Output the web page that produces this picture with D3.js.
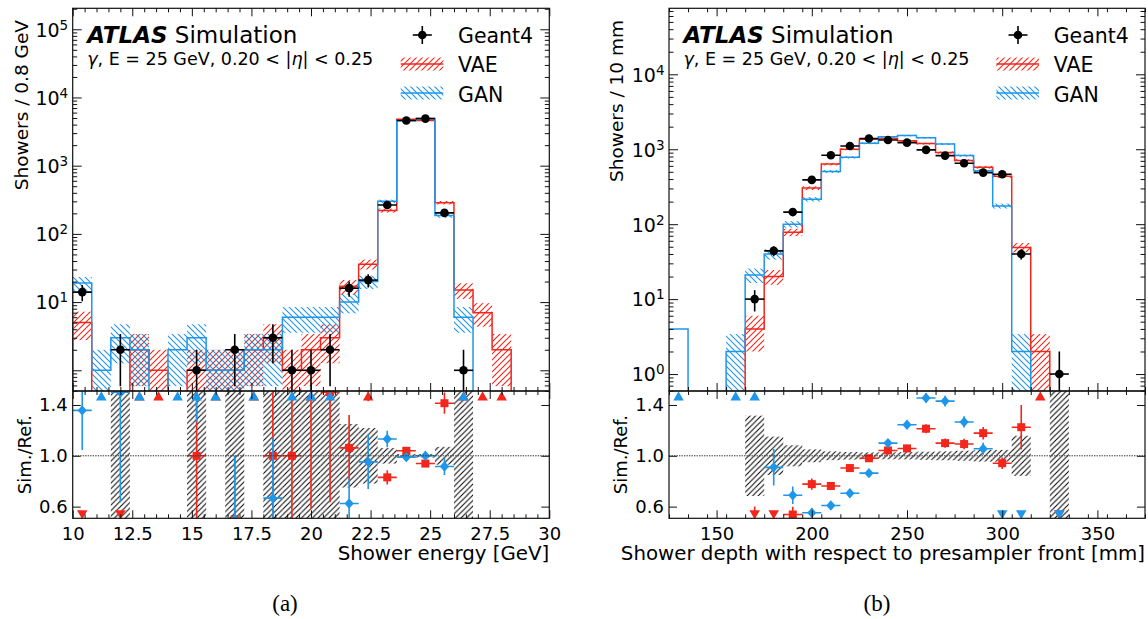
<!DOCTYPE html>
<html><head><meta charset="utf-8">
<script src="https://cdn.jsdelivr.net/npm/d3@7"></script>
<style>
body{margin:0;background:#fff}
svg{display:block}
text{font-family:"DejaVu Sans",sans-serif;fill:#000}
</style>
</head><body>
<svg id="chart" width="1148" height="619"></svg>
<script>
// ---------------- DATA ----------------
// (a) shower energy, bins of 0.8 GeV (lower edges)
const energyLow = [10.0,10.8,11.6,12.4,13.2,14.0,14.8,15.6,16.4,17.2,18.0,18.8,19.6,20.4,21.2,22.0,22.8,23.6,24.4,25.2,26.0,26.8,27.6,28.4,29.2];
const energyG4  = [14,0,2,0,0,0,1,0,2,0,3,1,1,2,16,21,265,4600,4900,203,1,0,0,0,0];
const energyVAE = [5,0,0,2,1,0,1,1,1,2,3,1,2,3,17,36,220,4780,4600,287,15,7,2,0,0];
const energyGAN = [19,1,3,2,0,2,3,1,1,2,2,6,6,6,10,20,300,4550,4900,186,6,0,0,0,0];
const energyTicks = [10,12.5,15,17.5,20,22.5,25,27.5,30];
const energyNoRefBand = [0];
const energyNoGanBand = [];

// (b) shower depth, bins of 10 mm (lower edges)
const depthLow = [125,135,145,155,165,175,185,195,205,215,225,235,245,255,265,275,285,295,305,315,325,335,345,355,365];
const depthG4  = [0,0,0,0,10,44,145,390,830,1107,1390,1330,1225,980,822,650,488,464,40,0,1,0,0,0,0];
const depthVAE = [0,0,0,0,4,20,78,303,633,1000,1363,1386,1296,1189,904,710,575,437,49,2,0,0,0,0,0];
const depthGAN = [4,0,0,2,21,40,100,215,505,780,1200,1463,1525,1426,1176,823,515,175,2,0,0,0,0,0,0];
const depthTicks = [150,200,250,300,350];
const depthNoRefBand = [];
const depthNoGanBand = [0];

const ratioTicks = [0.6,1.0,1.4];

// ---------------- STYLE ----------------
const RED = "#f2261b", BLUE = "#1e96ea";
const svg = d3.select("#chart");
const defs = svg.append("defs");

function makeHatch(id, color, dir, sp, sw){
  const p = defs.append("pattern").attr("id",id).attr("patternUnits","userSpaceOnUse")
    .attr("width",sp).attr("height",sp);
  const d = dir === "/"
    ? `M${-sp/2},${sp/2}L${sp/2},${-sp/2}M0,${sp}L${sp},0M${sp/2},${sp*1.5}L${sp*1.5},${sp/2}`
    : `M${-sp/2},${sp/2}L${sp/2},${sp*1.5}M0,0L${sp},${sp}M${sp/2},${-sp/2}L${sp*1.5},${sp/2}`;
  p.append("path").attr("d",d).attr("stroke",color).attr("stroke-width",sw).attr("fill","none");
}
makeHatch("hR", RED, "/", 6, 1.1);
makeHatch("hB", BLUE, "\\", 6, 1.1);
makeHatch("hK", "#000", "/", 5.5, 1.0);

function drawPanel(P){
  const x = d3.scaleLinear().domain(P.xDomain).range([P.left, P.right]);
  const y = d3.scaleLog().domain(P.yDomain).range([P.mid, P.top]);
  const r = d3.scaleLinear().domain([0.508,1.51]).range([P.bottom, P.mid]);
  const g = svg.append("g");

  defs.append("clipPath").attr("id",P.id+"T").append("rect")
    .attr("x",P.left).attr("y",P.top).attr("width",P.right-P.left).attr("height",P.mid-P.top);
  defs.append("clipPath").attr("id",P.id+"R").append("rect")
    .attr("x",P.left).attr("y",P.mid).attr("width",P.right-P.left).attr("height",P.bottom-P.mid);
  const top = g.append("g").attr("clip-path",`url(#${P.id}T)`);
  const rat = g.append("g").attr("clip-path",`url(#${P.id}R)`);
  const below = P.mid + 20;
  const yv = v => v > 0 ? y(v) : below;
  const bins = P.low.map((lo,i)=>({lo:lo, hi:lo+P.w, c:lo+P.w/2, i:i}));

  function band(vals, fill, skip){
    top.selectAll(null).data(bins.filter(b=>vals[b.i]>0 && !skip.includes(b.i))).enter()
      .append("rect")
      .attr("x",b=>x(b.lo)).attr("width",b=>x(b.hi)-x(b.lo))
      .attr("y",b=>y(vals[b.i]+Math.sqrt(vals[b.i])))
      .attr("height",b=>{const lo=vals[b.i]-Math.sqrt(vals[b.i]); return (lo>0?y(lo):below)-y(vals[b.i]+Math.sqrt(vals[b.i]));})
      .attr("fill",fill);
  }
  function step(vals, color){
    let d = `M${x(bins[0].lo)},${below}`;
    bins.forEach(b=>{ d += `L${x(b.lo)},${yv(vals[b.i])}L${x(b.hi)},${yv(vals[b.i])}`; });
    d += `L${x(bins[bins.length-1].hi)},${below}`;
    top.append("path").attr("d",d).attr("fill","none").attr("stroke",color).attr("stroke-width",1.5);
  }
  band(P.vae,"url(#hR)",[]);
  band(P.gan,"url(#hB)",P.noGanBand);
  step(P.vae,RED);
  step(P.gan,BLUE);

  // Geant4 points
  const pts = bins.filter(b=>P.g4[b.i]>0);
  pts.forEach(b=>{
    const v=P.g4[b.i], e=Math.sqrt(v);
    top.append("line").attr("x1",x(b.lo)).attr("x2",x(b.hi)).attr("y1",y(v)).attr("y2",y(v))
      .attr("stroke","#000").attr("stroke-width",1.6);
    top.append("line").attr("x1",x(b.c)).attr("x2",x(b.c)).attr("y1",y(v+e)).attr("y2",v-e>0?y(v-e):below)
      .attr("stroke","#000").attr("stroke-width",1.6);
    top.append("circle").attr("cx",x(b.c)).attr("cy",y(v)).attr("r",4.3).attr("fill","#000");
  });

  // ratio reference band
  bins.filter(b=>P.g4[b.i]>0 && !P.noRefBand.includes(b.i)).forEach(b=>{
    const e = 1/Math.sqrt(P.g4[b.i]);
    rat.append("rect").attr("x",x(b.lo)).attr("width",x(b.hi)-x(b.lo))
      .attr("y",r(1+e)).attr("height",r(1-e)-r(1+e)).attr("fill","url(#hK)");
  });
  g.append("line").attr("x1",P.left).attr("x2",P.right).attr("y1",r(1)).attr("y2",r(1))
    .attr("stroke","#333").attr("stroke-width",1).attr("stroke-dasharray","1.4,1.1");

  const tri = d3.symbol().type(d3.symbolTriangle).size(48);
  function ratioPts(vals, color, shape){
    bins.forEach(b=>{
      const s=vals[b.i], ref=P.g4[b.i];
      if(s===0 && ref===0) return;
      const cx = x(b.c);
      if(ref===0){ g.append("path").attr("d",tri()).attr("transform",`translate(${cx},${r(1.46)})`).attr("fill",color); return; }
      if(s===0){ g.append("path").attr("d",tri()).attr("transform",`translate(${cx},${r(0.548)}) rotate(180)`).attr("fill",color); return; }
      const q=s/ref, e=Math.sqrt(s)/ref;
      rat.append("line").attr("x1",cx).attr("x2",cx).attr("y1",r(q-e)).attr("y2",r(q+e)).attr("stroke",color).attr("stroke-width",1.6);
      rat.append("line").attr("x1",x(b.lo)).attr("x2",x(b.hi)).attr("y1",r(q)).attr("y2",r(q)).attr("stroke",color).attr("stroke-width",1.6);
      if(q>1.5){ g.append("path").attr("d",tri()).attr("transform",`translate(${cx},${r(1.46)})`).attr("fill",color); }
      else if(q<0.5){ g.append("path").attr("d",tri()).attr("transform",`translate(${cx},${r(0.548)}) rotate(180)`).attr("fill",color); }
      else if(shape==="square"){ rat.append("rect").attr("x",cx-4).attr("y",r(q)-4).attr("width",8).attr("height",8).attr("fill",color); }
      else { rat.append("path").attr("d",`M${cx},${r(q)-5.2}L${cx+4.6},${r(q)}L${cx},${r(q)+5.2}L${cx-4.6},${r(q)}Z`).attr("fill",color); }
    });
  }
  ratioPts(P.vae,RED,"square");
  ratioPts(P.gan,BLUE,"diamond");

  // frames
  [[P.top,P.mid],[P.mid,P.bottom]].forEach(([a,bb])=>{
    g.append("rect").attr("x",P.left).attr("y",a).attr("width",P.right-P.left).attr("height",bb-a)
      .attr("fill","none").attr("stroke","#111").attr("stroke-width",1.2);
  });

  // ticks
  const xMinor = d3.range(P.xDomain[0], P.xDomain[1]+1e-9, P.minorStep).map(v=>+v.toFixed(4)).filter(v=>!P.ticks.includes(v));
  function ax(gen, pos, vals, size, fmt, pad){
    const a = gen.tickValues(vals).tickSizeInner(-size).tickSizeOuter(0).tickPadding(pad||3).tickFormat(fmt||"");
    const s = g.append("g").attr("transform",pos).call(a);
    s.select(".domain").remove();
    s.selectAll(".tick line").attr("stroke","#111").attr("stroke-width",1);
    s.selectAll("text").attr("font-size","18px").attr("font-family","DejaVu Sans").attr("fill","#000");
    return s;
  }
  // x ticks
  ax(d3.axisTop(x),`translate(0,${P.top})`,P.ticks,8);
  ax(d3.axisTop(x),`translate(0,${P.top})`,xMinor,4);
  ax(d3.axisBottom(x),`translate(0,${P.mid})`,P.ticks,8);
  ax(d3.axisBottom(x),`translate(0,${P.mid})`,xMinor,4);
  ax(d3.axisTop(x),`translate(0,${P.mid})`,P.ticks,8);
  ax(d3.axisTop(x),`translate(0,${P.mid})`,xMinor,4);
  ax(d3.axisBottom(x),`translate(0,${P.bottom})`,P.ticks,8,d=>d3.format("")(d),8.5);
  ax(d3.axisBottom(x),`translate(0,${P.bottom})`,xMinor,4);
  // log y ticks
  const lo = Math.floor(Math.log10(P.yDomain[0])), hi = Math.ceil(Math.log10(P.yDomain[1]));
  const major=[], minor=[];
  for(let d=lo; d<=hi; d++){
    const m = Math.pow(10,d);
    if(m>=P.yDomain[0] && m<=P.yDomain[1]) major.push(m);
    for(let k=2;k<10;k++){ const v=k*m; if(v>=P.yDomain[0] && v<=P.yDomain[1]) minor.push(v); }
  }
  const ly = ax(d3.axisLeft(y),`translate(${P.left},0)`,major,9,d=>"",4.5);
  ly.selectAll(".tick").each(function(d){
    const e = Math.round(Math.log10(d));
    if(!P.yLabelDecades.includes(e)) return;
    const t = d3.select(this).select("text").text("");
    t.attr("font-size","19px").attr("dy","0.36em");
    t.append("tspan").text("10");
    t.append("tspan").attr("dy","-0.52em").attr("font-size","13.5px").text(e);
  });
  ax(d3.axisLeft(y),`translate(${P.left},0)`,minor,4.5);
  ax(d3.axisRight(y),`translate(${P.right},0)`,major,9);
  ax(d3.axisRight(y),`translate(${P.right},0)`,minor,4.5);
  // ratio y ticks
  ax(d3.axisLeft(r),`translate(${P.left},0)`,ratioTicks,8,d3.format(".1f"),5);
  ax(d3.axisRight(r),`translate(${P.right},0)`,ratioTicks,8);

  // labels
  g.append("text").attr("transform",`translate(${P.ylabX},20) rotate(-90)`).attr("text-anchor","end")
    .attr("font-size","18.5px").text(P.ylabel);
  g.append("text").attr("transform",`translate(${P.rlabX},${(P.mid+P.bottom)/2}) rotate(-90)`).attr("text-anchor","middle")
    .attr("font-size","18px").text("Sim./Ref.");
  g.append("text").attr("x",P.right).attr("y",560).attr("text-anchor","end").attr("font-size","19.8px").text(P.xlabel);

  // ATLAS label
  const at = g.append("text").attr("x",P.left+14.5).attr("y",42.7).attr("font-size","23px");
  at.append("tspan").attr("font-weight","bold").attr("font-style","italic").text("ATLAS");
  at.append("tspan").text(" Simulation");
  const inf = g.append("text").attr("x",P.left+14.5).attr("y",65).attr("font-size","17.5px");
  inf.append("tspan").attr("font-style","italic").text("γ");
  inf.append("tspan").text(", E = 25 GeV, 0.20 < |");
  inf.append("tspan").attr("font-style","italic").text("η");
  inf.append("tspan").text("| < 0.25");

  // legend
  const px = P.right-148.6, pw = 42.6, mx = P.right-127, tx = P.right-91.3;
  g.append("line").attr("x1",mx-9.5).attr("x2",mx+9.5).attr("y1",35).attr("y2",35).attr("stroke","#000").attr("stroke-width",1.6);
  g.append("line").attr("x1",mx).attr("x2",mx).attr("y1",26).attr("y2",44).attr("stroke","#000").attr("stroke-width",1.6);
  g.append("circle").attr("cx",mx).attr("cy",35).attr("r",4.3).attr("fill","#000");
  g.append("text").attr("x",tx).attr("y",43).attr("font-size","20.5px").text("Geant4");
  [["VAE","url(#hR)",RED,57.5,72],["GAN","url(#hB)",BLUE,86.5,101.5]].forEach(([lab,fill,col,yy,tb])=>{
    g.append("rect").attr("x",px).attr("y",yy).attr("width",pw).attr("height",13).attr("fill",fill);
    g.append("line").attr("x1",px).attr("x2",px+pw).attr("y1",yy+6.5).attr("y2",yy+6.5).attr("stroke",col).attr("stroke-width",1.5);
    g.append("text").attr("x",tx).attr("y",tb).attr("font-size","20.5px").text(lab);
  });

  svg.append("text").attr("x",P.capX).attr("y",611).attr("text-anchor","middle")
    .style("font-family","'Liberation Serif', serif").attr("font-size","23px").text(P.caption);
}

drawPanel({id:"a", left:72.7, right:549.3, top:8.3, mid:391, bottom:518.3,
  xDomain:[10,30], yDomain:[0.497,2.03e5], low:energyLow, w:0.8,
  g4:energyG4, vae:energyVAE, gan:energyGAN, noRefBand:energyNoRefBand, noGanBand:energyNoGanBand,
  ticks:energyTicks, minorStep:0.5, yLabelDecades:[1,2,3,4,5],
  ylabel:"Showers / 0.8 GeV", xlabel:"Shower energy [GeV]", ylabX:28, rlabX:31, caption:"(a)", capX:285});

drawPanel({id:"b", left:669, right:1145, top:8.3, mid:391, bottom:518.3,
  xDomain:[125,375], yDomain:[0.594,7.6e4], low:depthLow, w:10,
  g4:depthG4, vae:depthVAE, gan:depthGAN, noRefBand:depthNoRefBand, noGanBand:depthNoGanBand,
  ticks:depthTicks, minorStep:10, yLabelDecades:[0,1,2,3,4],
  ylabel:"Showers / 10 mm", xlabel:"Shower depth with respect to presampler front [mm]", ylabX:623, rlabX:627, caption:"(b)", capX:877});
</script>
</body></html>
